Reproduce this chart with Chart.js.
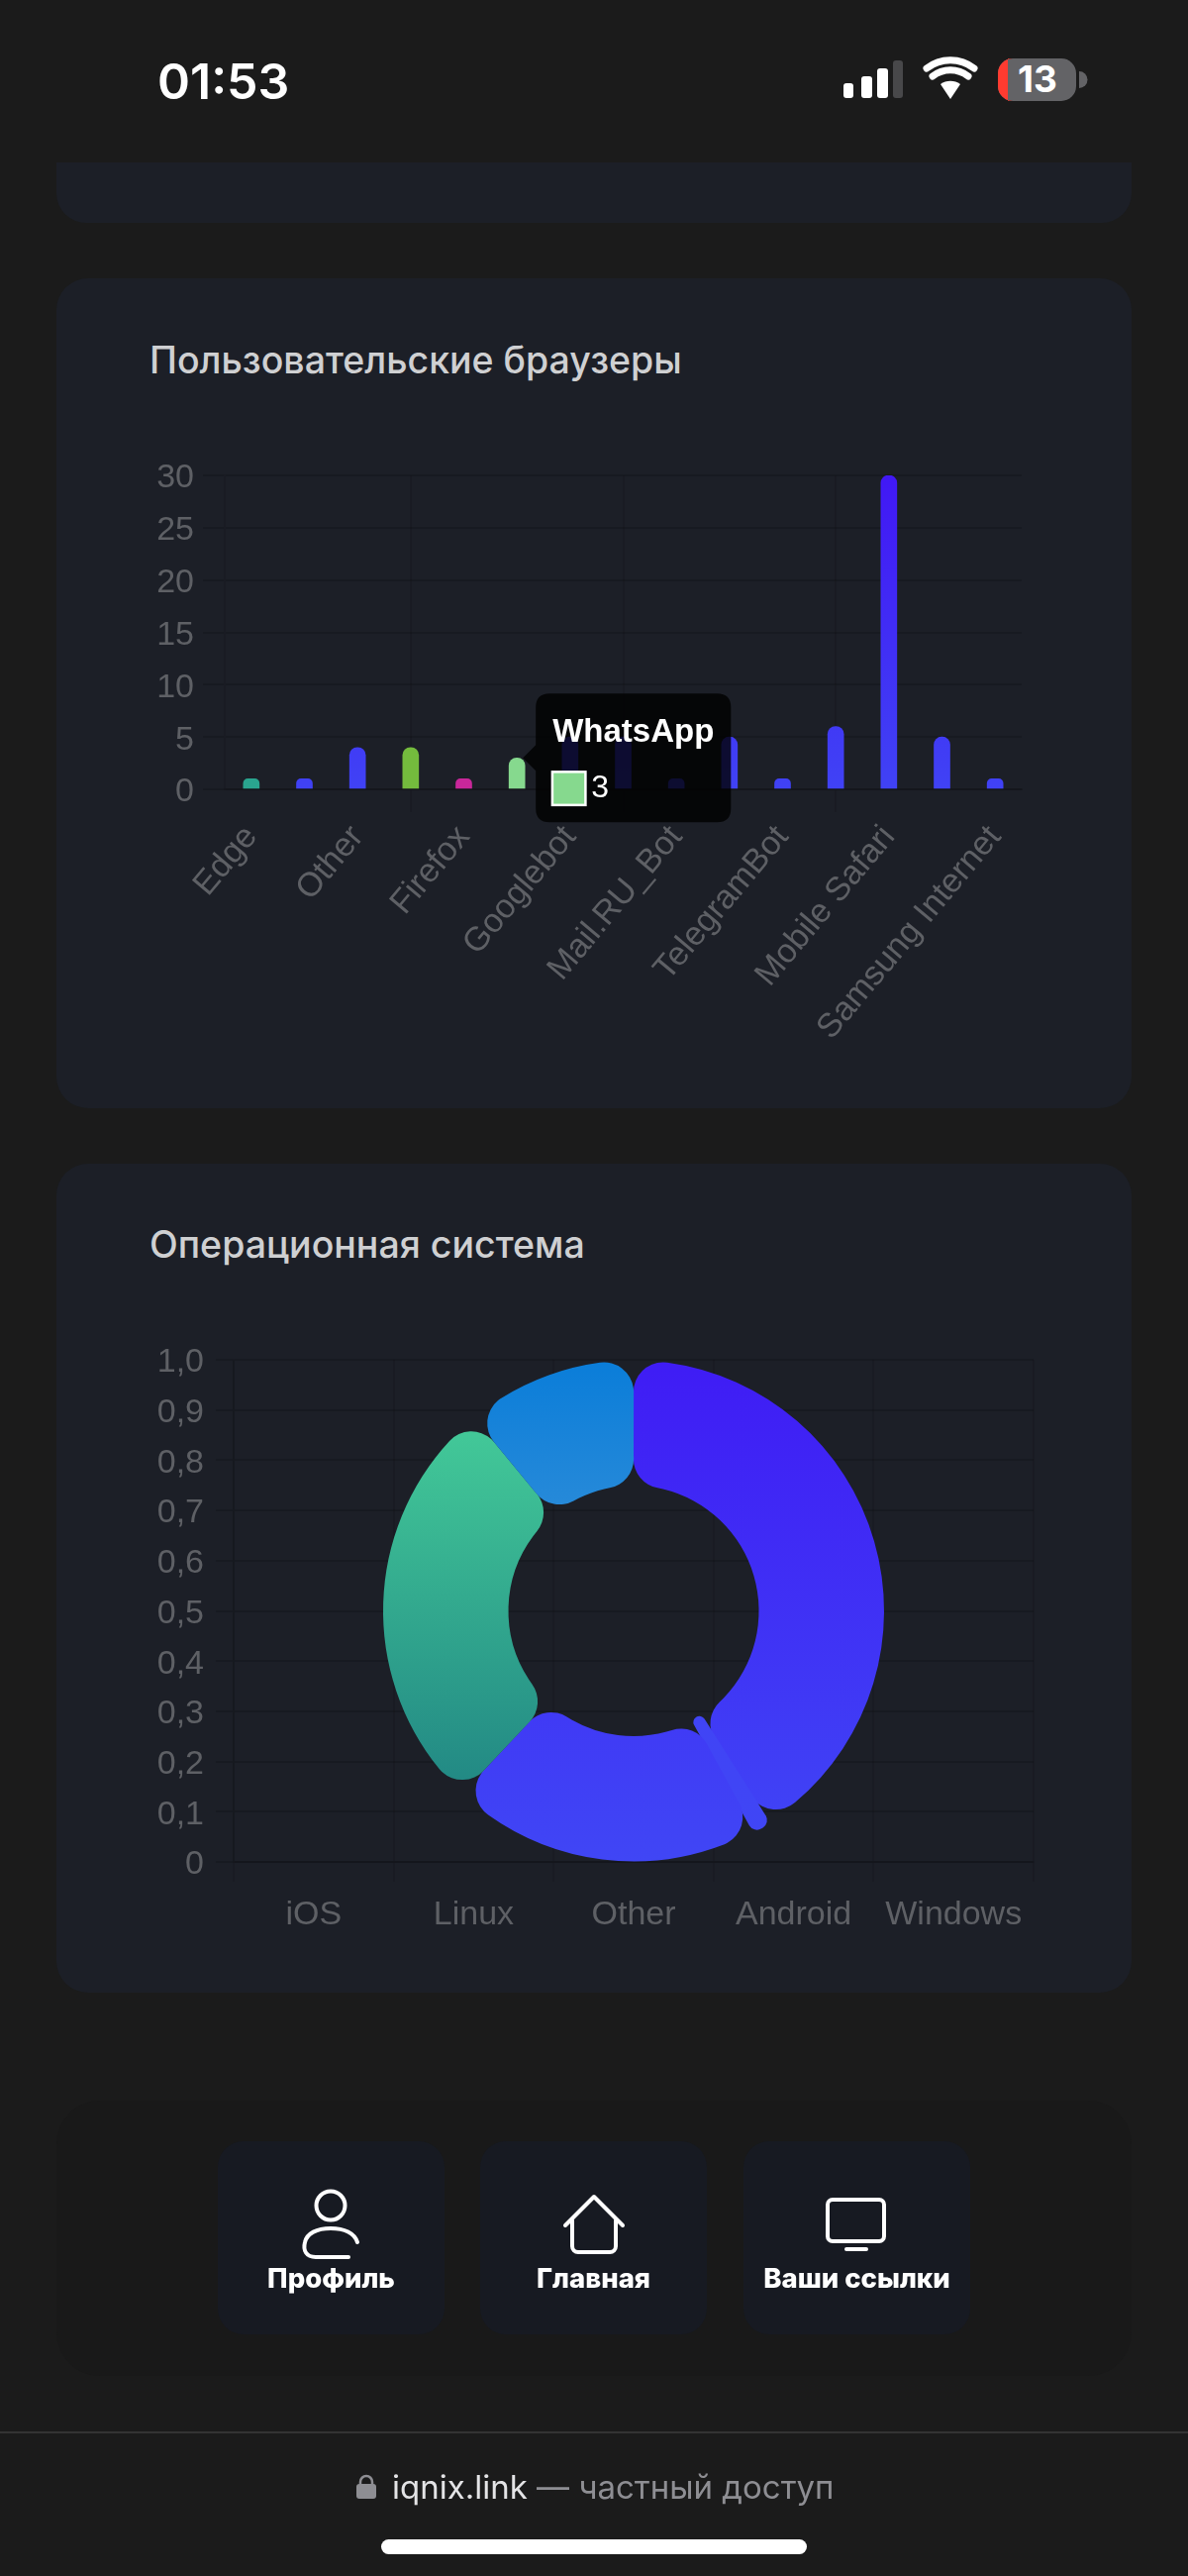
<!DOCTYPE html>
<html lang="ru">
<head>
<meta charset="utf-8">
<title>Статистика</title>
<script src="https://cdn.jsdelivr.net/npm/chart.js@4/dist/chart.umd.min.js"></script>
<style>
html,body{margin:0;padding:0;background:#1b1b1b;}
#page{position:relative;width:1200px;height:2601px;overflow:hidden;background:#1b1b1b;font-family:Inter,sans-serif;}
.card{position:absolute;left:57px;width:1086px;background:#1c1f27;border-radius:32px;}
.title{position:absolute;left:151px;font-size:37.5px;font-weight:500;color:#cfd0d2;white-space:nowrap;line-height:44px;}
canvas{position:absolute;}
.nav{position:absolute;left:57px;top:2121px;width:1086px;height:278px;background:#191919;border-radius:44px;}
.btn{position:absolute;top:2162px;width:229px;height:195px;background:#171a22;border-radius:26px;}
.lbl{position:absolute;top:2284px;width:229px;text-align:center;color:#fff;font-size:27.5px;font-weight:800;line-height:32px;white-space:nowrap;}
svg{position:absolute;overflow:visible;}
#time{position:absolute;left:159px;top:52px;font-size:50px;font-weight:600;color:#fff;line-height:60px;}
#batnum{position:absolute;left:1018px;top:60px;width:60px;text-align:center;font-size:37px;font-weight:700;color:#fff;line-height:40px;}
#divider{position:absolute;left:0;top:2455px;width:1200px;height:2px;background:#333;}
#foot{position:absolute;left:396px;top:2489px;font-size:33px;line-height:44px;color:#8e8e93;white-space:nowrap;}
#foot b{font-weight:400;color:#e4e4e6;}
#home{position:absolute;left:385px;top:2564px;width:430px;height:15px;background:#fff;border-radius:8px;}
</style>
</head>
<body>
<div id="page">
  <div id="time">01:53</div>
  <svg style="left:0;top:0" width="1200" height="120">
    <rect x="852" y="84" width="10" height="15" rx="3" fill="#fff"/>
    <rect x="870" y="77" width="11" height="22" rx="3" fill="#fff"/>
    <rect x="886" y="69" width="11" height="30" rx="3" fill="#fff"/>
    <rect x="902" y="61" width="10" height="38" rx="3" fill="#48484a"/>
    <path d="M960 100 l-10 -15 a17 17 0 0 1 20 0 z" fill="#fff"/>
    <path d="M942 77 a29 29 0 0 1 36 0" fill="none" stroke="#fff" stroke-width="7" stroke-linecap="round"/>
    <path d="M936 69 a39 39 0 0 1 48 0" fill="none" stroke="#fff" stroke-width="7" stroke-linecap="round"/>
    <rect x="1008" y="59" width="79" height="43" rx="15" fill="#636366"/>
    <path d="M1018 59 h5 a15 15 0 0 0 -15 15 v13 a15 15 0 0 0 15 15 h-5z" fill="#ff3b30"/>
    <path d="M1090 72 a8 8 0 0 1 0 17z" fill="#636366"/>
  </svg>
  <div id="batnum">13</div>

  <div class="card" style="top:164px;height:61px;border-radius:0 0 30px 30px"></div>
  <div class="card" style="top:281px;height:838px"></div>
  <div class="title" style="top:342px">Пользовательские браузеры</div>
  <canvas id="browsersChart" width="920" height="640" style="left:140px;top:440px"></canvas>

  <div class="card" style="top:1175px;height:837px"></div>
  <div class="title" style="top:1235px">Операционная система</div>
  <canvas id="osChart" width="940" height="620" style="left:140px;top:1340px"></canvas>

  <div class="nav"></div>
  <div class="btn" style="left:220px"></div>
  <div class="btn" style="left:485px"></div>
  <div class="btn" style="left:751px"></div>
  <svg style="left:0;top:0" width="1200" height="2601" fill="none" stroke="#fff" stroke-width="4" stroke-linecap="round" stroke-linejoin="round">
    <circle cx="334" cy="2227" r="14.5"/>
    <path d="M352 2279 h-33 c-10 0 -13 -7 -11 -15 c2 -9 12 -14 26 -14 c14 0 24 5 27 14"/>
    <path d="M571 2247 l29 -29 l29 29 M578 2242 v26 a6 6 0 0 0 6 6 h32 a6 6 0 0 0 6 -6 v-26"/>
    <rect x="836" y="2221" width="57" height="42" rx="5"/>
    <path d="M855 2271 h20"/>
  </svg>
  <div class="lbl" style="left:220px">Профиль</div>
  <div class="lbl" style="left:485px">Главная</div>
  <div class="lbl" style="left:751px">Ваши ссылки</div>

  <div id="divider"></div>
  <svg style="left:360px;top:2498px" width="20" height="26">
    <path d="M4 11 v-3 a6 6 0 0 1 12 0 v3" fill="none" stroke="#8e8e93" stroke-width="2.5"/>
    <rect x="0" y="10" width="20" height="15" rx="3" fill="#8e8e93"/>
  </svg>
  <div id="foot"><b>iqnix.link</b> — частный доступ</div>
  <div id="home"></div>
</div>

<script>
// Браузеры
var browserLabels = ["Edge", "Opera", "Other", "Chrome", "Firefox", "WhatsApp", "Googlebot", "Yandex Browser",
	"Mail.RU_Bot", "Mobile Chrome", "TelegramBot", "Safari", "Mobile Safari", "Chrome WebView", "Samsung Internet"];
var browserValues = [1, 1, 4, 4, 1, 3, 5, 5, 1, 5, 1, 6, 30, 5, 1];
var browserColors = ["#2aa58f", null, null, "#74bb3d", "#c9279a", "#86d98e", null, null, null, null, null, null, null, null, null];
var browserTicks = [0, 5, 10, 15, 20, 25, 30];

// Операционные системы
var osLabels = ["iOS", "Linux", "Other", "Android", "Windows"];
var osValues = [41, 1, 20, 27, 11];
var osBorderWidths = [0, 4, 0, 0, 0];
var osTopColors = ["#3f1cf5", "#4040f5", "#3f1cf5", "#49d59c", "#0a7dd9"];
var osBottomColors = ["#4046f5", "#4046f5", "#4046f5", "#1b7b80", "#6ba8d9"];

var tickColor = "#5e6065";
var gridColorH = "rgba(0,0,0,0.15)";
var gridColorV = "rgba(0,0,0,0.1)";
var tickFont = { family: "'Liberation Sans', Arial, sans-serif", size: 34 };
// y labels sit a little under their grid line: empty first line + short line height
var yTickFont = { family: "'Liberation Sans', Arial, sans-serif", size: 34, lineHeight: "6px" };

var verticalGradient = function(chart, top, bottom) {
	var area = chart.chartArea;
	var g = chart.ctx.createLinearGradient(0, area.top, 0, area.bottom);
	g.addColorStop(0, top);
	g.addColorStop(1, bottom);
	return g;
};

var osFill = function(c) {
	if (!c.chart.chartArea) return osTopColors[c.dataIndex];
	return verticalGradient(c.chart, osTopColors[c.dataIndex], osBottomColors[c.dataIndex]);
};

var yLabel = function(value, index, ticks) {
	return ["", Chart.Ticks.formatters.numeric.call(this, value, index, ticks)];
};

// Fixed axis size, so the plot lands where the reference has it
var fixSize = function(key, size) {
	return function(scale) {
		scale[key] = size;
		scale.paddingLeft = scale.paddingRight = scale.paddingTop = scale.paddingBottom = 0;
	};
};

var browsersChart = new Chart(document.getElementById("browsersChart"), {
	type: "bar",
	data: {
		labels: browserLabels,
		datasets: [{
			data: browserValues,
			barThickness: 16,
			borderRadius: 8,
			backgroundColor: function(c) {
				if (!c.chart.chartArea) return "#4038f5";
				return browserColors[c.dataIndex] || verticalGradient(c.chart, "#4118f5", "#4042f5");
			}
		}]
	},
	options: {
		responsive: false,
		animation: false,
		layout: { padding: { left: 0, top: 40, right: 28, bottom: 0 } },
		plugins: {
			legend: { display: false },
			tooltip: {
				enabled: true,
				backgroundColor: "rgba(0,0,0,0.8)",
				titleColor: "#fff",
				bodyColor: "#fff",
				titleFont: { family: "'Liberation Sans', Arial, sans-serif", size: 33, weight: "bold" },
				bodyFont: { family: "'Liberation Sans', Arial, sans-serif", size: 32 },
				padding: { left: 17, right: 17, top: 20, bottom: 15 },
				titleMarginBottom: 17,
				cornerRadius: 14,
				caretSize: 13,
				caretPadding: 6,
				boxWidth: 33,
				boxHeight: 33,
				boxPadding: 4,
				xAlign: "left",
				yAlign: "center",
				callbacks: {
					label: function(c) { return String(c.raw); },
					labelColor: function(c) {
						return { borderColor: "#fff", backgroundColor: browserColors[c.dataIndex] || "#4038f5", borderWidth: 3, borderRadius: 0 };
					}
				}
			}
		},
		scales: {
			x: {
				afterFit: fixSize("height", 283),
				grid: { color: gridColorV, lineWidth: 2, tickLength: 23 },
				border: { color: gridColorH, width: 2 },
				ticks: { color: tickColor, font: tickFont, minRotation: 50, maxRotation: 50, maxTicksLimit: 8, padding: 6 }
			},
			y: {
				min: 0,
				max: 30,
				afterFit: fixSize("width", 87),
				afterBuildTicks: function(scale) { scale.ticks = browserTicks.map(function(v) { return { value: v }; }); },
				grid: { color: gridColorH, lineWidth: 2, tickLength: 22 },
				border: { color: gridColorV, width: 2 },
				ticks: { color: tickColor, font: yTickFont, padding: 9, callback: yLabel }
			}
		}
	}
});
browsersChart.tooltip.setActiveElements([{ datasetIndex: 0, index: browserLabels.indexOf("WhatsApp") }], { x: 0, y: 0 });
browsersChart.update();

new Chart(document.getElementById("osChart"), {
	type: "doughnut",
	data: {
		labels: osLabels,
		datasets: [{
			data: osValues,
			borderWidth: osBorderWidths,
			borderRadius: 30,
			backgroundColor: osFill,
			borderColor: osFill
		}]
	},
	options: {
		responsive: false,
		animation: false,
		locale: "ru",
		cutout: "50%",
		radius: 253,
		layout: { padding: { left: 0, top: 33, right: 36, bottom: 0 } },
		plugins: { legend: { display: false }, tooltip: { enabled: false } },
		scales: {
			x: {
				type: "category",
				offset: true,
				afterFit: fixSize("height", 80),
				grid: { color: gridColorV, lineWidth: 2, tickLength: 20, offset: true },
				border: { color: gridColorH, width: 2 },
				ticks: { color: tickColor, font: tickFont, maxRotation: 0, autoSkip: false, padding: 13 }
			},
			y: {
				type: "linear",
				min: 0,
				max: 1,
				afterFit: fixSize("width", 96),
				grid: { color: gridColorH, lineWidth: 2, tickLength: 18 },
				border: { color: gridColorV, width: 2 },
				ticks: { color: tickColor, font: yTickFont, stepSize: 0.1, padding: 12, callback: yLabel }
			}
		}
	}
});
</script>
</body>
</html>
